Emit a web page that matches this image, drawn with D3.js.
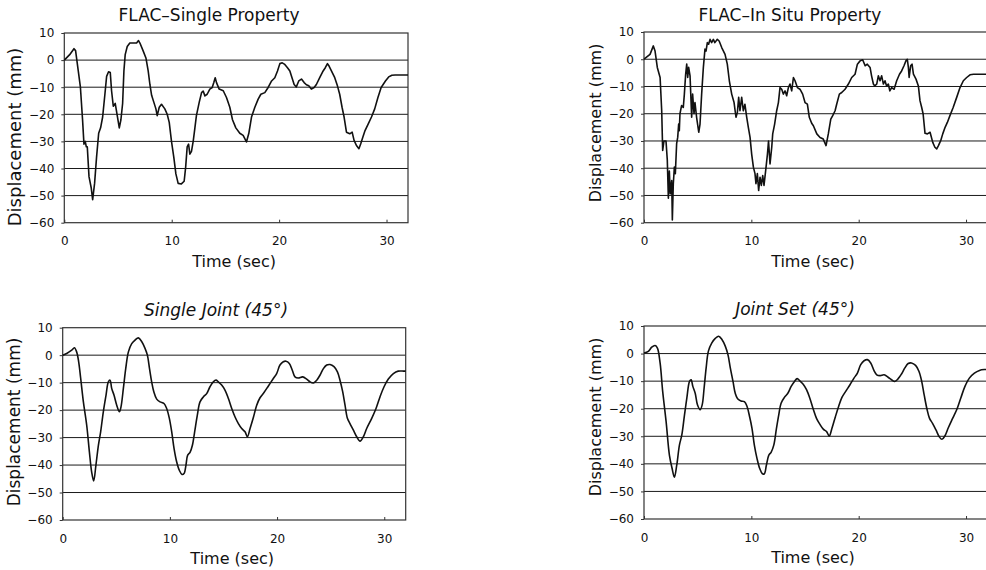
<!DOCTYPE html>
<html>
<head>
<meta charset="utf-8">
<script src="https://cdn.jsdelivr.net/npm/d3@7"></script>
<style>
  html, body { margin: 0; padding: 0; background: #fff; }
  svg { display: block; }
</style>
</head>
<body>
<svg id="chart" width="986" height="570"></svg>
<script>
// ---------------- DATA ----------------
const panelTitles = ["FLAC\u2013Single Property", "FLAC\u2013In Situ Property", "Single Joint (45\u00b0)", "Joint Set (45\u00b0)"];
const xTicks = [0, 10, 20, 30];
const yTicks = [10, 0, -10, -20, -30, -40, -50, -60];
const xLabel = "Time (sec)";
const yLabel = "Displacement (mm)";

// [time (sec), displacement (mm)]
const flacSingle = [
  [0,0],[0.5,2],[0.9,4.2],[1.05,3.5],[1.3,-4],[1.5,-10],[1.7,-22],[1.83,-31],[1.95,-30],[2.05,-32],[2.14,-32],
  [2.3,-43],[2.5,-47],[2.64,-51.5],[2.82,-45.5],[3.0,-36],[3.2,-27],[3.38,-25],[3.57,-21],[3.78,-12.6],
  [3.94,-6],[4.12,-4.3],[4.28,-4.6],[4.4,-11.3],[4.56,-17],[4.74,-16],[4.93,-20.5],[5.12,-25],[5.27,-22],
  [5.43,-16],[5.55,-4],[5.67,2],[5.86,5],[6.1,6.3],[6.42,6.3],[6.73,6.3],[6.91,7.2],[7.04,6.3],[7.35,3.3],
  [7.6,0.8],[7.81,-4],[7.97,-9],[8.13,-13],[8.34,-15.6],[8.53,-18],[8.65,-20.5],[8.84,-17.4],[9.05,-16.3],
  [9.36,-18],[9.58,-20],[9.77,-23],[9.98,-30],[10.2,-36],[10.39,-42],[10.6,-45.5],[10.9,-45.7],[11.16,-44.7],
  [11.3,-39.5],[11.44,-32],[11.57,-31],[11.69,-34.7],[11.84,-33.7],[12.0,-30],[12.16,-25],[12.3,-20.5],
  [12.56,-15.6],[12.78,-12],[12.93,-11.4],[13.09,-13.2],[13.3,-12.6],[13.55,-10.7],[13.77,-10.1],[13.92,-8.3],
  [14.05,-6.5],[14.17,-8.3],[14.42,-10.7],[14.8,-11.3],[15.1,-13.8],[15.41,-17.4],[15.66,-22],[15.97,-25],
  [16.34,-27],[16.65,-27.8],[16.96,-30.2],[17.18,-27],[17.43,-21],[17.74,-17.4],[18.05,-14.4],[18.3,-12.6],
  [18.67,-12],[18.98,-10.1],[19.3,-7.7],[19.6,-6.5],[19.85,-4],[20.07,-1.3],[20.29,-1],[20.53,-1.6],
  [20.78,-2.8],[21.0,-4],[21.2,-6.5],[21.4,-9],[21.6,-9.9],[21.83,-7.7],[22.08,-7],[22.33,-8.3],[22.54,-9.1],
  [22.76,-9.5],[23.0,-10.7],[23.26,-10.1],[23.47,-9],[23.78,-6.5],[24.1,-4],[24.3,-2.8],[24.5,-1.3],
  [24.65,-2.2],[24.87,-4],[25.18,-6.5],[25.43,-9.5],[25.64,-12.6],[25.86,-17.4],[26.05,-21],[26.27,-26.6],
  [26.58,-27.2],[26.8,-26.6],[26.98,-29.6],[27.2,-31.5],[27.43,-32.7],[27.6,-30.9],[27.8,-28.4],[28.0,-26],
  [28.3,-23.5],[28.6,-21],[28.9,-18],[29.2,-13.8],[29.5,-10.1],[29.9,-7.7],[30.2,-6.2],[30.5,-5.6],
  [30.8,-5.5],[32,-5.5]
];

const flacInSitu = [
  [0,0],[0.56,1.8],[0.87,4.9],[1.03,3],[1.24,-3],[1.5,-6.7],[1.65,-19],[1.74,-33.5],[1.86,-30],[2.05,-30],
  [2.17,-37],[2.27,-51],[2.36,-41],[2.45,-49.4],[2.58,-44.5],[2.64,-59],[2.73,-45.7],[2.83,-39.6],[2.92,-42],
  [3.04,-31],[3.14,-28.7],[3.23,-23.8],[3.29,-26.2],[3.35,-20],[3.5,-17],[3.66,-17.7],[3.76,-12.8],[3.88,-5.5],
  [3.98,-1.8],[4.07,-6.7],[4.16,-3],[4.29,-6.1],[4.44,-21.3],[4.53,-12.8],[4.66,-20],[4.75,-15.9],[4.9,-21.3],
  [5.1,-26.8],[5.22,-23.8],[5.37,-12.8],[5.53,-3],[5.68,3.7],[5.78,3],[5.9,6.1],[6.02,5.5],[6.15,7.3],
  [6.3,6.1],[6.46,7.3],[6.6,6.1],[6.83,7.3],[7.0,6.7],[7.24,4.3],[7.55,1.8],[7.76,-1.8],[7.95,-7.9],
  [8.17,-12.8],[8.39,-15.9],[8.57,-21.3],[8.7,-19.5],[8.82,-14],[8.94,-18.9],[9.1,-14],[9.25,-18.9],
  [9.4,-16.5],[9.57,-21.3],[9.72,-25],[9.88,-28.7],[10.03,-34.8],[10.19,-39.6],[10.34,-42],[10.43,-45.7],
  [10.56,-42],[10.68,-48.2],[10.81,-43.3],[10.93,-46.3],[11.06,-42.7],[11.18,-46.3],[11.37,-39.6],
  [11.5,-34.8],[11.6,-30],[11.74,-38.4],[11.9,-32.3],[11.99,-27.4],[12.17,-23.8],[12.36,-18.9],[12.52,-15.9],
  [12.67,-10.4],[12.83,-11],[12.98,-12.8],[13.14,-11.6],[13.29,-13.4],[13.45,-10.4],[13.6,-9.1],[13.76,-11.6],
  [13.92,-6.7],[14.07,-7.9],[14.29,-10.4],[14.53,-11],[14.78,-12.8],[15.0,-15.9],[15.22,-16.5],[15.4,-21.3],
  [15.62,-23.5],[15.78,-24.4],[16.1,-27.4],[16.4,-28.7],[16.7,-29.3],[16.96,-31.7],[17.17,-27.4],[17.4,-22],
  [17.58,-20.7],[17.8,-18.9],[17.95,-16.5],[18.2,-12.8],[18.42,-12.2],[18.73,-11],[19.04,-9.1],[19.35,-6.7],
  [19.66,-5.5],[19.88,-1.8],[20.13,-0.6],[20.37,-0.2],[20.6,-2.4],[20.8,-1.8],[21.06,-3],[21.2,-6.1],
  [21.37,-9.1],[21.5,-9.8],[21.68,-9.1],[21.83,-6.1],[21.99,-7.9],[22.14,-6.1],[22.3,-9.1],[22.45,-7.9],
  [22.6,-9.8],[22.76,-9.1],[22.9,-11.6],[23.07,-10.4],[23.3,-11],[23.54,-7.9],[23.8,-5.5],[24.0,-4.3],
  [24.22,-2.4],[24.4,-0.6],[24.53,0],[24.63,-3],[24.7,-6.7],[24.84,-2.4],[24.97,-1.8],[25.1,-5.5],
  [25.34,-7.3],[25.56,-9.8],[25.71,-15.2],[25.87,-17.7],[26.0,-20],[26.18,-27.2],[26.4,-27.4],[26.65,-26.8],
  [26.9,-30.5],[27.1,-32.3],[27.27,-32.9],[27.43,-31.7],[27.64,-29.9],[27.83,-27.4],[28.05,-25],[28.26,-23.2],
  [28.5,-20.7],[28.8,-17.7],[29.13,-14],[29.44,-10.4],[29.75,-7.9],[30.06,-6.7],[30.37,-5.7],[30.7,-5.5],
  [32,-5.5]
];

const singleJoint = [
  [0,0],[0.37,0.6],[0.84,1.8],[1.09,2.7],[1.3,1.2],[1.49,-2.4],[1.68,-8.5],[1.93,-17],[2.24,-25.5],
  [2.49,-35.2],[2.7,-42.5],[2.89,-45.8],[3.1,-40],[3.33,-32.8],[3.54,-27.9],[3.79,-20.6],[4.04,-14.6],
  [4.26,-9.7],[4.42,-9.1],[4.57,-12.1],[4.79,-14.6],[5.04,-18.2],[5.29,-20.6],[5.44,-18.8],[5.66,-12.1],
  [5.88,-4.9],[6.13,1.2],[6.44,4.2],[6.75,5.5],[7.06,6.3],[7.38,4.9],[7.69,2.4],[7.9,0],[8.1,-4.9],
  [8.3,-9.7],[8.5,-13.3],[8.77,-16],[9.08,-17],[9.45,-17.6],[9.7,-19.4],[9.95,-23],[10.17,-27.9],
  [10.39,-34],[10.63,-38.8],[10.88,-41.9],[11.13,-43.4],[11.32,-43.1],[11.5,-40],[11.66,-36.4],[11.88,-35.4],
  [12.1,-32.8],[12.31,-27.9],[12.56,-21.8],[12.81,-17],[13.12,-15.2],[13.43,-14],[13.74,-11.5],[14.05,-9.7],
  [14.3,-9.1],[14.52,-9.7],[14.83,-10.9],[15.14,-12.7],[15.46,-15.8],[15.77,-19.4],[16.08,-22.5],
  [16.39,-24.9],[16.7,-26.7],[17.01,-27.9],[17.23,-29.7],[17.48,-26.7],[17.8,-22.5],[18.1,-18.2],
  [18.41,-15.5],[18.78,-13.6],[19.19,-11.2],[19.65,-8.5],[19.96,-6.7],[20.27,-3.6],[20.58,-2.4],
  [20.83,-2.2],[21.14,-3],[21.42,-5.5],[21.67,-7.9],[21.98,-8.3],[22.39,-7.9],[22.76,-8.7],[23.07,-9.7],
  [23.39,-10.1],[23.7,-9.1],[24.0,-7.3],[24.32,-4.9],[24.63,-3.6],[24.94,-3.4],[25.31,-4.2],[25.63,-6.1],
  [25.87,-9.1],[26.12,-13.3],[26.34,-18.2],[26.56,-23],[26.8,-24.9],[27.12,-27.3],[27.43,-29.7],
  [27.74,-31.3],[28.05,-29.7],[28.36,-26.7],[28.83,-23],[29.23,-19.4],[29.6,-15.2],[29.98,-11.5],
  [30.38,-8.7],[30.85,-6.7],[31.3,-5.8],[31.8,-5.8],[32,-5.8]
];

const jointSet = [
  [0,0.2],[0.4,0.8],[0.72,2.3],[1.03,2.9],[1.25,2],[1.5,-3.4],[1.74,-13.7],[2.06,-24.7],[2.37,-36.9],
  [2.62,-41.7],[2.83,-44.8],[3.05,-40.5],[3.3,-33.2],[3.52,-29.6],[3.77,-22.3],[3.99,-16.2],[4.24,-10.1],
  [4.39,-9.5],[4.55,-11.9],[4.77,-14.4],[4.98,-18.6],[5.23,-20.4],[5.42,-18.6],[5.6,-12.5],[5.79,-5.2],
  [6.0,0.9],[6.32,3.9],[6.64,5.5],[6.95,6.3],[7.26,5.1],[7.57,2.7],[7.82,-0.4],[8.04,-5.2],[8.29,-10.1],
  [8.5,-14.4],[8.72,-16.4],[9.03,-17.2],[9.35,-17.4],[9.6,-19.2],[9.84,-22.9],[10.06,-27.1],[10.28,-33.2],
  [10.53,-38.1],[10.78,-41.7],[11.03,-43.6],[11.21,-43.6],[11.4,-40.5],[11.62,-36.9],[11.84,-35.8],
  [12.09,-33.2],[12.34,-27.1],[12.55,-22.3],[12.77,-18],[13.08,-15.9],[13.4,-14.4],[13.71,-11.9],
  [14.02,-10.1],[14.27,-9.1],[14.52,-9.9],[14.83,-11.1],[15.14,-13.1],[15.45,-16.2],[15.76,-20.1],
  [16.07,-23.5],[16.39,-25.7],[16.7,-27.4],[17.01,-28.3],[17.26,-29.9],[17.51,-27.1],[17.83,-22.9],
  [18.13,-19.2],[18.44,-15.9],[18.79,-13.7],[19.19,-11.3],[19.56,-8.9],[19.88,-7.1],[20.19,-4],[20.5,-2.6],
  [20.81,-2.2],[21.12,-3.4],[21.43,-6.2],[21.68,-7.7],[22.0,-8],[22.37,-7.7],[22.74,-8.6],[23.06,-9.5],
  [23.36,-10.1],[23.68,-9.1],[23.99,-7.4],[24.3,-5.2],[24.61,-3.6],[24.92,-3.4],[25.3,-4.3],[25.61,-6.4],
  [25.86,-9.9],[26.1,-15],[26.36,-20.1],[26.6,-23.5],[26.88,-25.3],[27.2,-27.7],[27.51,-30.2],
  [27.76,-31.1],[28.04,-29.8],[28.35,-26.9],[28.75,-23.5],[29.16,-20.1],[29.53,-15.9],[29.9,-11.9],
  [30.31,-8.9],[30.78,-7.1],[31.25,-6.1],[31.71,-5.8],[32,-5.8]
];

const seriesList = [flacSingle, flacInSitu, singleJoint, jointSet];

// ---------------- LAYOUT ----------------
const layout = [
  { left: 64.3, right: 408,   top: 33,    bottom: 222.7, titleX: 209, titleY: 21,  ylX: 15,  ylY: 137, ylSize: 18, italic: false, smooth: false },
  { left: 644,  right: 987.5, top: 32,    bottom: 222.7, titleX: 790, titleY: 21,  ylX: 595, ylY: 123, ylSize: 16, italic: false, smooth: false },
  { left: 62.7, right: 405.7, top: 327.7, bottom: 520,   titleX: 216, titleY: 316, ylX: 14,  ylY: 422, ylSize: 17, italic: true,  smooth: true },
  { left: 644,  right: 987.5, top: 326,   bottom: 519,   titleX: 795, titleY: 315, ylX: 595, ylY: 417, ylSize: 16, italic: true,  smooth: true }
];

const FONT = "'DejaVu Sans', 'Liberation Sans', Arial, sans-serif";
const svg = d3.select("#chart");

layout.forEach((L, i) => {
  const x = d3.scaleLinear().domain([0, 32]).range([L.left, L.right]);
  const y = d3.scaleLinear().domain([-60, 10]).range([L.bottom, L.top]);
  const g = svg.append("g");

  // horizontal grid lines
  g.selectAll("line.grid").data(yTicks.filter(v => v > -60 && v < 10)).join("line")
    .attr("class", "grid")
    .attr("x1", L.left).attr("x2", L.right)
    .attr("y1", d => y(d)).attr("y2", d => y(d))
    .attr("stroke", "#1a1a1a").attr("stroke-width", 1);

  // frame
  g.append("rect")
    .attr("x", L.left).attr("y", L.top)
    .attr("width", L.right - L.left).attr("height", L.bottom - L.top)
    .attr("fill", "none").attr("stroke", "#333").attr("stroke-width", 1.2);

  // y axis
  const yAxis = d3.axisLeft(y).tickValues(yTicks).tickSize(3).tickPadding(7).tickFormat(d3.format("d"));
  const ya = g.append("g").attr("transform", `translate(${L.left},0)`).call(yAxis);
  ya.select(".domain").remove();
  ya.selectAll("line").attr("stroke", "#333");
  ya.selectAll("text").attr("font-family", FONT).attr("font-size", 12).attr("fill", "#111")
    .text(d => d < 0 ? "\u2212" + Math.abs(d) : d);

  // x axis
  const xAxis = d3.axisBottom(x).tickValues(xTicks).tickSize(-3).tickPadding(14).tickFormat(d3.format("d"));
  const xa = g.append("g").attr("transform", `translate(0,${L.bottom})`).call(xAxis);
  xa.select(".domain").remove();
  xa.selectAll("line").attr("stroke", "#333");
  xa.selectAll("text").attr("font-family", FONT).attr("font-size", 12).attr("fill", "#111");

  // data line
  const line = d3.line()
    .x(d => x(d[0])).y(d => y(d[1]))
    .curve(L.smooth ? d3.curveCatmullRom.alpha(0.5) : d3.curveLinear);
  g.append("path").datum(seriesList[i])
    .attr("d", line)
    .attr("fill", "none").attr("stroke", "#111").attr("stroke-width", 1.6)
    .attr("stroke-linejoin", "round");

  // title
  g.append("text")
    .attr("x", L.titleX).attr("y", L.titleY)
    .attr("text-anchor", "middle")
    .attr("font-family", FONT).attr("font-size", 17)
    .attr("font-style", L.italic ? "italic" : "normal")
    .attr("fill", "#111")
    .text(panelTitles[i]);

  // x label
  g.append("text")
    .attr("x", (L.left + Math.min(L.right, 986)) / 2 - 2).attr("y", L.bottom + 44)
    .attr("text-anchor", "middle")
    .attr("font-family", FONT).attr("font-size", 16).attr("fill", "#111")
    .text(xLabel);

  // y label
  g.append("text")
    .attr("transform", `translate(${L.ylX + 6},${L.ylY}) rotate(-90)`)
    .attr("text-anchor", "middle")
    .attr("font-family", FONT).attr("font-size", L.ylSize).attr("fill", "#111")
    .text(yLabel);
});
</script>
</body>
</html>
